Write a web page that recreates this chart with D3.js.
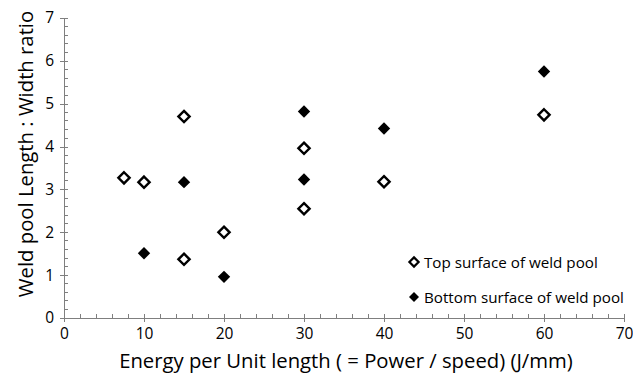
<!DOCTYPE html>
<html><head><meta charset="utf-8">
<script src="https://cdn.jsdelivr.net/npm/d3@7"></script>
<style>body{margin:0;background:#fff}svg{display:block}text{font-family:"Open Sans",sans-serif;fill:#000}</style>
</head><body><svg id="c" width="633" height="375"></svg>
<script>
const topX = [7.5, 10, 15, 15, 20, 30, 30, 40, 60];
const topY = [3.27, 3.17, 4.70, 1.37, 2.00, 3.96, 2.55, 3.18, 4.74];
const botX = [10, 15, 20, 30, 30, 40, 60];
const botY = [1.51, 3.17, 0.96, 4.82, 3.23, 4.42, 5.75];
const xTicks = [0, 10, 20, 30, 40, 50, 60, 70];
const yTicks = [0, 1, 2, 3, 4, 5, 6, 7];
const seriesNames = ["Top surface of weld pool", "Bottom surface of weld pool"];
const xTitle = "Energy per Unit length ( = Power / speed) (J/mm)";
const yTitle = "Weld pool Length : Width ratio";

const svg = d3.select("#c");
const x = d3.scaleLinear().domain([0, 70]).range([64, 624]);
const y = d3.scaleLinear().domain([0, 7]).range([318, 18]);
const axisColor = "#7f7f7f";
const FONT = "'Open Sans', sans-serif";

// minor ticks
const xMinor = d3.range(0, 70.01, 2).filter(v => v % 10 !== 0);
const yMinor = d3.range(0, 7.001, 0.2).filter(v => Math.abs(v - Math.round(v)) > 1e-6);
const g = svg.append("g");
g.selectAll(".xm").data(xMinor).join("line")
  .attr("x1", d => x(d)).attr("x2", d => x(d)).attr("y1", y(0)).attr("y2", y(0) - 4)
  .attr("stroke", axisColor).attr("stroke-width", 1).attr("shape-rendering", "crispEdges");
g.selectAll(".ym").data(yMinor).join("line")
  .attr("x1", x(0)).attr("x2", x(0) + 4).attr("y1", d => y(d)).attr("y2", d => y(d))
  .attr("stroke", axisColor).attr("stroke-width", 1).attr("shape-rendering", "crispEdges");

// axes
const xAxis = svg.append("g").attr("transform", `translate(0,${y(0)})`)
  .call(d3.axisBottom(x).tickValues(xTicks).tickFormat(d3.format("d")).tickSizeInner(4).tickSizeOuter(0).tickPadding(6));
const yAxis = svg.append("g").attr("transform", `translate(${x(0)},0)`)
  .call(d3.axisLeft(y).tickValues(yTicks).tickFormat(d3.format("d")).tickSizeInner(4).tickSizeOuter(0).tickPadding(6));
[xAxis, yAxis].forEach(a => {
  a.select(".domain").attr("stroke", axisColor).attr("shape-rendering", "crispEdges");
  a.selectAll(".tick line").attr("stroke", axisColor).attr("shape-rendering", "crispEdges");
  a.selectAll(".tick text").style("font-family", FONT).style("font-size", "15.5px").attr("fill", "#000");
});
// major ticks cross axis
xAxis.selectAll(".tick").append("line").attr("y1", 0).attr("y2", -4).attr("stroke", axisColor).attr("shape-rendering", "crispEdges");
yAxis.selectAll(".tick").append("line").attr("x1", 0).attr("x2", 4).attr("stroke", axisColor).attr("shape-rendering", "crispEdges");
xAxis.selectAll(".tick text").attr("dy", "0.71em");

// titles
svg.append("text").attr("x", 346).attr("y", 368).attr("text-anchor", "middle")
  .style("font-size", "20.3px").text(xTitle);
svg.append("text").attr("transform", `translate(33,154) rotate(-90)`).attr("text-anchor", "middle")
  .style("font-size", "20.3px").text(yTitle);

// markers
const diamond = s => `M0,${-s}L${s},0L0,${s}L${-s},0Z`;
const topData = topX.map((v, i) => ({x: v, y: topY[i]}));
const botData = botX.map((v, i) => ({x: v, y: botY[i]}));
svg.append("g").selectAll("path").data(topData).join("path")
  .attr("d", diamond(5.6)).attr("transform", d => `translate(${x(d.x)},${y(d.y)})`)
  .attr("fill", "#fff").attr("stroke", "#000").attr("stroke-width", 2.4);
svg.append("g").selectAll("path").data(botData).join("path")
  .attr("d", diamond(6.2)).attr("transform", d => `translate(${x(d.x)},${y(d.y)})`)
  .attr("fill", "#000");

// legend
const leg = svg.append("g");
leg.append("path").attr("d", diamond(4.6)).attr("transform", "translate(414,262)")
  .attr("fill", "#fff").attr("stroke", "#000").attr("stroke-width", 2.2);
leg.append("path").attr("d", diamond(5)).attr("transform", "translate(414,297)").attr("fill", "#000");
leg.append("text").attr("x", 424).attr("y", 268).style("font-size", "15.2px").text(seriesNames[0]);
leg.append("text").attr("x", 424).attr("y", 303).style("font-size", "15.2px").text(seriesNames[1]);
</script></body></html>
